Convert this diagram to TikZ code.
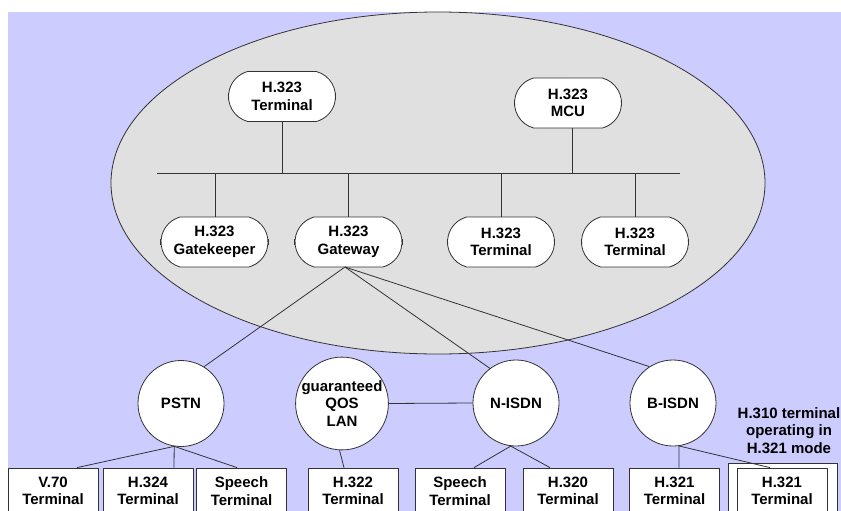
\documentclass[tikz,border=0pt]{standalone}
\usepackage{fontspec}
\setmainfont{Liberation Sans}
\usetikzlibrary{shapes.misc,calc}
\definecolor{lav}{HTML}{CCCCFF}
\definecolor{ellg}{HTML}{E0E0E0}
\definecolor{ln}{HTML}{333333}
\begin{document}
\begin{tikzpicture}[x=1pt,y=-1pt,
  font=\fontsize{15}{17.5}\selectfont\bfseries,
  hnode/.style={rounded rectangle, rounded rectangle arc length=150, draw=ln, fill=white,
    minimum width=107pt, minimum height=50pt, inner sep=0pt, align=center, line width=0.8pt},
  net/.style={circle, draw=ln, fill=white, minimum size=86pt, inner sep=0pt, align=center, line width=0.8pt},
  term/.style={rectangle, draw=ln, fill=white, minimum width=90pt, minimum height=46pt,
    inner sep=0pt, align=center, line width=0.8pt},
  wire/.style={draw=ln, line width=0.8pt},
  tick/.style={draw=ln, line width=1pt}]
\useasboundingbox (0,0) rectangle (841,511);
\clip (0,0) rectangle (841,511);
\fill[white] (0,0) rectangle (841,511);
\fill[lav] (8,12) rectangle (841,511);
\draw[fill=ellg, draw=ln, line width=0.8pt] (438,183) ellipse [x radius=327pt, y radius=171pt];

% bus
\coordinate (busL) at (157,173);
\coordinate (busR) at (680,173);
\draw[wire] (busL) -- (busR);

% H.323 nodes
\node[hnode] (tt) at (282,96.5) {H.323\\Terminal};
\node[hnode] (mcu) at (568,103) {H.323\\MCU};
\node[hnode] (gk) at (214.5,242) {H.323\\Gatekeeper};
\node[hnode] (gw) at (348.5,242) {H.323\\Gateway};
\node[hnode] (t3) at (501,242) {H.323\\Terminal};
\node[hnode] (t4) at (635,242) {H.323\\Terminal};
\foreach \n in {tt,mcu,gk,gw,t3,t4}{
  \draw[tick] ([yshift=-3pt]\n.west) -- ([yshift=3pt]\n.west);
  \draw[tick] ([yshift=-3pt]\n.east) -- ([yshift=3pt]\n.east);
}

\coordinate (bTT) at (282,173);
\coordinate (bMCU) at (572,173);
\coordinate (bGK) at (215,173);
\coordinate (bGW) at (348,173);
\coordinate (bT3) at (501,173);
\coordinate (bT4) at (635,173);
\draw[wire] (tt.south) -- (bTT);
\draw[wire] (mcu.south -| bMCU) -- (bMCU);
\draw[wire] (bGK) -- (gk.north -| bGK);
\draw[wire] (bGW) -- (gw.north -| bGW);
\draw[wire] (bT3) -- (t3.north);
\draw[wire] (bT4) -- (t4.north);

% networks
\node[net] (pstn) at (181,403.5) {PSTN};
\node[net] (qos) at (342,403.5) {guaranteed\\QOS\\LAN};
\node[net] (nisdn) at (516,403) {N-ISDN};
\node[net] (bisdn) at (673,403) {B-ISDN};

\coordinate (gwo) at (345,267);
\draw[wire] (gwo) -- (pstn.58);
\draw[wire] (gwo) -- (nisdn.127);
\draw[wire] (gwo) -- (bisdn.123);
\draw[wire] (qos.east) -- (nisdn.west);

% terminals
\node[term] (v70) at (53,491) {V.70\\Terminal};
\node[term] (h324) at (148,491) {H.324\\Terminal};
\node[term] (sp1) at (241.5,491) {Speech\\Terminal};
\node[term] (h322) at (353,491) {H.322\\Terminal};
\node[term] (sp2) at (460,491) {Speech\\Terminal};
\node[term] (h320) at (568,491) {H.320\\Terminal};
\node[term] (h321a) at (674.5,491) {H.321\\Terminal};
\node[draw=ln, fill=white, line width=0.8pt, minimum width=109pt, minimum height=60pt, inner sep=0pt] (outer) at (782.5,493) {};
\node[term] (h321b) at (782,491) {H.321\\Terminal};
\node[align=center, inner sep=0pt] (lab) at (789,430.5) {H.310 terminal\\operating in\\H.321 mode};

\draw[wire] (pstn.-99) -- ([xshift=24pt]v70.north);
\draw[wire] (pstn.-99) -- ([xshift=26pt]h324.north);
\draw[wire] (pstn.-99) -- ([xshift=-4.5pt]sp1.north);
\draw[wire] (qos.-93) -- ([xshift=-9pt]h322.north);
\draw[wire] (nisdn.-97) -- ([xshift=14pt]sp2.north);
\draw[wire] (nisdn.-97) -- ([xshift=-18pt]h320.north);
\draw[wire] (bisdn.-82) -- ([xshift=4.5pt]h321a.north);
\draw[wire] (bisdn.-82) -- ([xshift=-12pt]h321b.north);
\end{tikzpicture}
\end{document}
